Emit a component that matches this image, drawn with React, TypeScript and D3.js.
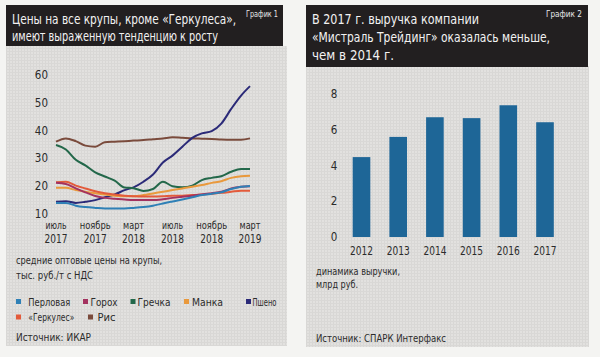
import React from "react";
import * as d3 from "d3";

const months = [
  "2017-07","2017-08","2017-09","2017-10","2017-11","2017-12",
  "2018-01","2018-02","2018-03","2018-04","2018-05","2018-06",
  "2018-07","2018-08","2018-09","2018-10","2018-11","2018-12",
  "2019-01","2019-02","2019-03",
];
const perlovaya = [14, 14, 13, 12.5, 12.2, 12, 12, 12, 12.2, 12.5, 13, 13.8, 14.5, 15.2, 16, 16.8, 17.3, 17.8, 19, 19.8, 20.1];
const gorokh = [21.2, 20.8, 19.2, 17.8, 16.5, 15.8, 15.5, 15.2, 15, 15, 15, 15.3, 15.8, 16.2, 16.6, 17, 17.5, 18, 19.2, 19.8, 20];
const grechka = [34.8, 33.2, 29.5, 27.5, 25, 23.5, 22, 19.5, 19.3, 18.3, 19, 21.6, 20, 19.6, 20.2, 22.2, 23, 23.6, 25.2, 26.2, 26.2];
const manka = [19.4, 19.4, 18.6, 18, 17.5, 17, 16.6, 16.4, 16.4, 16.8, 17.4, 18, 18.6, 19.2, 19.8, 20.4, 21.2, 21.8, 23, 23.6, 23.8];
const psheno = [14.4, 14.6, 14, 14.4, 15, 16, 17, 18.6, 19.6, 21.6, 24.2, 28.5, 31, 34.2, 37.4, 39, 39.8, 42.5, 47.8, 52.6, 56];
const gerkules = [21.4, 21.6, 20.2, 19.2, 18.2, 17.5, 17, 16.6, 16.4, 16.3, 16.3, 16.4, 16.6, 16.6, 16.8, 17, 17.3, 17.6, 18, 18.4, 18.4];
const ris = [36, 37.2, 36.2, 34.6, 34.2, 35.8, 36, 36.2, 36.4, 36.6, 36.9, 37.2, 37.6, 37.4, 37.2, 37.1, 37, 36.8, 36.7, 36.7, 37.2];

const seriesNames = ["Перловая", "Горох", "Гречка", "Манка", "Пшено", "«Геркулес»", "Рис"];
const seriesColors = ["#2f80b6", "#a3325f", "#23684a", "#e9993c", "#2b2a78", "#e35b3b", "#7a4b3c"];
const seriesValues = [perlovaya, gorokh, grechka, manka, psheno, gerkules, ris];
const drawOrder = [6, 4, 2, 3, 5, 1, 0];

const leftYTicks = [10, 20, 30, 40, 50, 60];
const leftXTicks = [
  { date: "2017-07", m: "июль", y: "2017" },
  { date: "2017-11", m: "ноябрь", y: "2017" },
  { date: "2018-03", m: "март", y: "2018" },
  { date: "2018-07", m: "июль", y: "2018" },
  { date: "2018-11", m: "ноябрь", y: "2018" },
  { date: "2019-03", m: "март", y: "2019" },
];

const years = ["2012", "2013", "2014", "2015", "2016", "2017"];
const revenue = [4.47, 5.6, 6.7, 6.65, 7.37, 6.42];
const rightYTicks = [0, 2, 4, 6, 8];

const FONT = "'Liberation Sans Narrow', 'DejaVu Sans Condensed', 'Roboto Condensed', Roboto, sans-serif";
const TEXT = "#2b2b2b";

const parse = d3.timeParse("%Y-%m");

const monthW: Record<string, number> = { "июль": 21, "ноябрь": 31, "март": 21 };
const legendW = [42, 27, 33, 31, 24, 46, 18];

function T(props: {
  x: number; y: number; w?: number; size: number; anchor?: string; fill?: string; children: React.ReactNode;
}) {
  const { x, y, w, size, anchor, fill, children } = props;
  return (
    <text
      x={x}
      y={y}
      fontSize={size}
      textAnchor={anchor || "start"}
      fill={fill || TEXT}
      {...(w ? { textLength: w, lengthAdjust: "spacingAndGlyphs" } : {})}
    >
      {children}
    </text>
  );
}

export default function App() {
  const dates = months.map((m) => parse(m) as Date);
  const x = d3.scaleTime().domain([dates[0], dates[dates.length - 1]]).range([56, 250]);
  const y = d3.scaleLinear().domain([10, 60]).range([214, 75]);
  const line = d3
    .line<number>()
    .x((_, i) => x(dates[i]))
    .y((v) => y(v))
    .curve(d3.curveMonotoneX);

  const xb = d3.scaleBand<string>().domain(years).range([343.15, 563.35]).paddingInner(0.52).paddingOuter(0.26);
  const yb = d3.scaleLinear().domain([0, 8]).range([237, 94]);

  const legendRows = [
    [0, 1, 2, 3, 4],
    [5, 6],
  ];
  const legendSq = [[16, 83, 130.5, 184, 246], [16, 88]];
  const legendTx = [[28.3, 90.5, 137.5, 192, 252.5], [28.3, 97.5]];
  const legendY = [305.5, 321];

  return (
    <svg
      width={600}
      height={357}
      style={{ position: "absolute", left: 0, top: 0, fontFamily: FONT }}
    >
      <defs>
        <pattern id="ht" width="3" height="3" patternUnits="userSpaceOnUse">
          <rect width="3" height="3" fill="#e2e1df" />
          <rect width="1" height="3" fill="#d8d7d5" />
          <rect width="3" height="1" fill="#d9d8d6" />
        </pattern>
      </defs>
      <rect width={600} height={357} fill="#f4f4f2" />

      {/* LEFT PANEL */}
      <rect x={6} y={46} width={281} height={300} fill="url(#ht)" />
      <rect x={6} y={5} width={277} height={41} fill="#221f20" />
      <T x={12} y={24} size={14} w={224} fill="#f2f2f2">Цены на все крупы, кроме «Геркулеса»,</T>
      <T x={12} y={41} size={14} w={206} fill="#f2f2f2">имеют выраженную тенденцию к росту</T>
      <T x={246} y={17} size={9} w={32} fill="#e8e8e8">График 1</T>

      {leftYTicks.map((t) => (
        <T key={t} x={48} y={y(t) + 4} size={11.5} anchor="end">{t}</T>
      ))}
      {leftXTicks.map((t, i) => {
        const cx = x(parse(t.date) as Date);
        return (
          <g key={i}>
            <T x={cx} y={229.3} size={10.5} w={monthW[t.m]} anchor="middle">{t.m}</T>
            <T x={cx} y={243} size={12.5} w={23} anchor="middle">{t.y}</T>
          </g>
        );
      })}

      {drawOrder.map((si) => (
        <path
          key={si}
          d={line(seriesValues[si]) || ""}
          fill="none"
          stroke={seriesColors[si]}
          strokeWidth={2}
          strokeLinejoin="round"
        />
      ))}

      <T x={16} y={264} size={11} w={146}>средние оптовые цены на крупы,</T>
      <T x={16} y={278.5} size={11} w={77}>тыс. руб./т с НДС</T>

      {legendRows.map((row, ri) =>
        row.map((si, k) => (
          <g key={si}>
            <rect x={legendSq[ri][k]} y={legendY[ri] - 6.5} width={5} height={5} fill={seriesColors[si]} />
            <T x={legendTx[ri][k]} y={legendY[ri]} size={10.5} w={legendW[si]}>{seriesNames[si]}</T>
          </g>
        ))
      )}

      <T x={16} y={340.5} size={11} w={75}>Источник: ИКАР</T>

      {/* RIGHT PANEL */}
      <rect x={306} y={66} width={283} height={281} fill="url(#ht)" />
      <rect x={306} y={5} width={282} height={62} fill="#221f20" />
      <T x={312} y={23.5} size={14} w={167} fill="#f2f2f2">В 2017 г. выручка компании</T>
      <T x={312} y={41.5} size={14} w={238} fill="#f2f2f2">«Мистраль Трейдинг» оказалась меньше,</T>
      <T x={312} y={59.5} size={14} w={82} fill="#f2f2f2">чем в 2014 г.</T>
      <T x={546} y={17} size={9} w={36} fill="#e8e8e8">График 2</T>

      {rightYTicks.map((t) => (
        <T key={t} x={334} y={yb(t) + 4} size={11.5} anchor="middle">{t}</T>
      ))}
      {years.map((yr, i) => (
        <g key={yr}>
          <rect
            x={xb(yr) as number}
            y={yb(revenue[i])}
            width={xb.bandwidth()}
            height={yb(0) - yb(revenue[i])}
            fill="#1e6697"
          />
          <T x={(xb(yr) as number) + xb.bandwidth() / 2} y={255} size={11.5} w={23} anchor="middle">{yr}</T>
        </g>
      ))}

      <T x={316} y={274.5} size={11} w={84}>динамика выручки,</T>
      <T x={316} y={288} size={11} w={42}>млрд руб.</T>
      <T x={316} y={341.5} size={11} w={130}>Источник: СПАРК Интерфакс</T>
    </svg>
  );
}
